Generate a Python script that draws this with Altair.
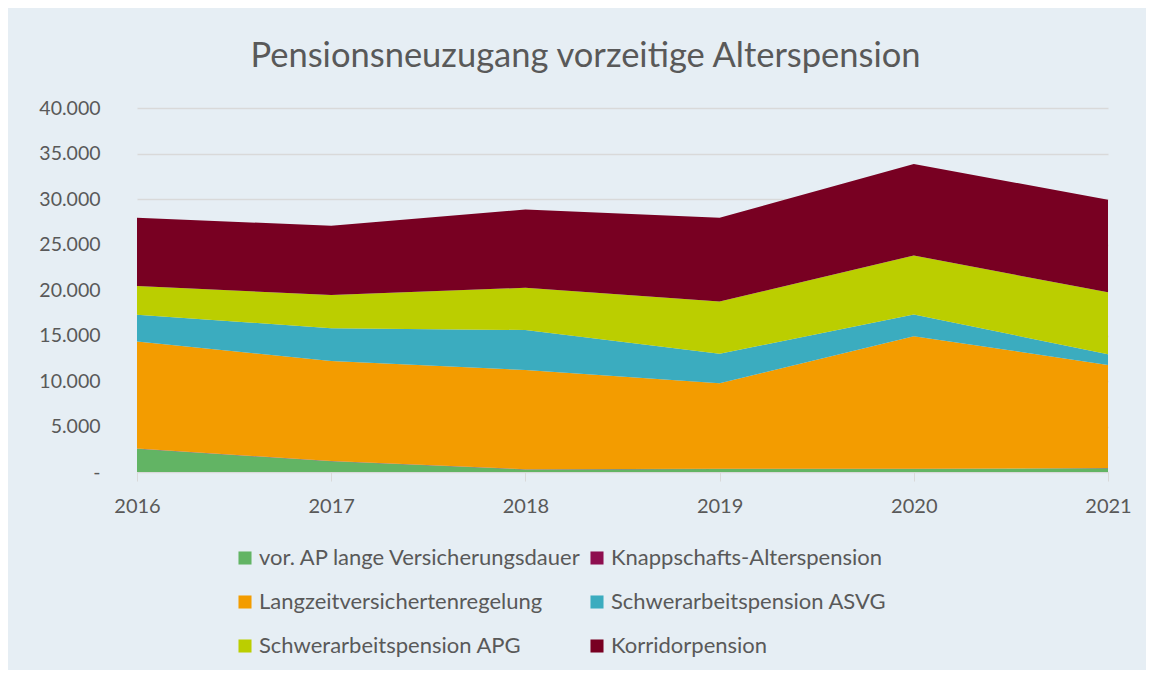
import altair as alt
import pandas as pd

years = [2016, 2017, 2018, 2019, 2020, 2021]
series = [
    "vor. AP lange Versicherungsdauer",
    "Knappschafts-Alterspension",
    "Langzeitversichertenregelung",
    "Schwerarbeitspension ASVG",
    "Schwerarbeitspension APG",
    "Korridorpension",
]
colors = ["#62B464", "#8E0E4F", "#F39C00", "#3BACBF", "#BBCE00", "#780022"]

vor_ap = [2550, 1180, 280, 330, 330, 420]
knapp = [40, 30, 20, 20, 20, 20]
langzeit = [11740, 10990, 10900, 9400, 14580, 11320]
schwer_asvg = [2950, 3610, 4400, 3250, 2380, 1180]
schwer_apg = [3160, 3640, 4650, 5740, 6470, 6800]
korridor = [7500, 7610, 8600, 9200, 10070, 10180]

values = [vor_ap, knapp, langzeit, schwer_asvg, schwer_apg, korridor]
rows = []
for i, (name, vals) in enumerate(zip(series, values)):
    for y, v in zip(years, vals):
        rows.append({"Jahr": y, "Serie": name, "Wert": v, "ord": i})
df = pd.DataFrame(rows)

FONT = "Lato"
GRAY = "#595959"

chart = alt.Chart(df).mark_area(opacity=1).encode(
    x=alt.X("Jahr:Q", scale=alt.Scale(domain=[2016, 2021], nice=False, zero=False),
            axis=alt.Axis(values=years, format="d", title=None, grid=False,
                          domainColor="#D9D9D9", tickColor="#D9D9D9", tickSize=9,
                          labelPadding=15, labelFontSize=20, labelColor=GRAY,
                          labelFont=FONT, labelFlush=False)),
    y=alt.Y("sum(Wert):Q", stack="zero",
            scale=alt.Scale(domain=[0, 40000], nice=False),
            axis=alt.Axis(values=[0, 5000, 10000, 15000, 20000, 25000, 30000, 35000, 40000],
                          title=None, domain=False, ticks=False, gridColor="#D9D9D9",
                          gridWidth=1.5, labelPadding=37, labelFontSize=19.5,
                          labelColor=GRAY, labelFont=FONT,
                          labelExpr="datum.value == 0 ? '-' : replace(format(datum.value, ','), ',', '.')")),
    color=alt.Color("Serie:N", scale=alt.Scale(domain=series, range=colors),
                    legend=alt.Legend(title=None, orient="none", legendX=97, legendY=439,
                                      columns=2, direction="horizontal",
                                      symbolType="square", symbolSize=170,
                                      symbolStrokeWidth=0, symbolOpacity=1,
                                      labelFontSize=22, labelColor=GRAY, labelFont=FONT,
                                      labelLimit=500, rowPadding=22, columnPadding=4,
                                      labelOffset=3)),
    order=alt.Order("ord:Q", sort="ascending"),
).properties(
    width=971,
    height=364,
    title=alt.TitleParams("Pensionsneuzugang vorzeitige Alterspension",
                          fontSize=34.5, font=FONT, fontWeight="normal", color=GRAY,
                          anchor="middle", dx=-37, offset=24),
    autosize=alt.AutoSizeParams(type="none"),
    padding={"left": 129, "top": 100, "right": 38, "bottom": 198},
).configure(background="#E6EEF4").configure_view(stroke=None)

chart.save("out.html", embed_options={"renderer": "svg", "actions": False})
